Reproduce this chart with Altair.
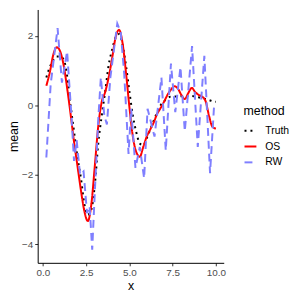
import altair as alt
import pandas as pd

# grid for Truth and OS
grid_x = [0.2, 0.4, 0.6, 0.8, 1.0, 1.2, 1.4, 1.6, 1.8, 2.0,
          2.2, 2.4, 2.6, 2.8, 3.0, 3.2, 3.4, 3.6, 3.8, 4.0,
          4.2, 4.4, 4.6, 4.8, 5.0, 5.2, 5.4, 5.6, 5.8, 6.0,
          6.2, 6.4, 6.6, 6.8, 7.0, 7.2, 7.4, 7.6, 7.8, 8.0,
          8.2, 8.4, 8.6, 8.8, 9.0, 9.2, 9.4, 9.6, 9.8, 10.0]

truth_y = [0.80, 1.10, 1.30, 1.40, 1.40, 1.32, 0.85, 0.00, -0.75, -1.50,
           -2.10, -2.85, -3.15, -3.00, -2.30, -1.10, -0.30, 0.40, 1.15, 1.60,
           1.95, 2.05, 1.75, 1.15, 0.40, -0.30, -0.78, -1.10, -1.15, -0.95,
           -0.70, -0.45, -0.20, 0.00, 0.12, 0.20, 0.25, 0.25, 0.25, 0.26,
           0.27, 0.27, 0.27, 0.25, 0.23, 0.20, 0.18, 0.15, 0.12, 0.10]

os_y = [0.56, 0.95, 1.45, 1.67, 1.55, 1.15, 0.50, -0.25, -1.05, -1.75,
        -2.45, -3.05, -3.33, -2.85, -1.75, -0.60, 0.10, 0.38, 0.80, 1.35,
        1.95, 2.17, 1.80, 0.95, -0.05, -0.90, -1.35, -1.48, -1.20, -0.90,
        -0.70, -0.50, -0.25, -0.08, 0.10, 0.30, 0.45, 0.55, 0.48, 0.30,
        0.18, 0.35, 0.50, 0.38, 0.30, 0.25, 0.12, -0.30, -0.62, -0.67]

rw_x = [0.2, 0.45, 0.85, 1.1, 1.4, 1.65, 1.8, 1.95, 2.15, 2.35,
        2.55, 2.7, 2.85, 3.0, 3.2, 3.35, 3.55, 3.7, 3.9, 4.3,
        4.5, 4.7, 4.95, 5.1, 5.35, 5.6, 5.85, 6.05, 6.45, 6.85,
        7.1, 7.4, 7.65, 7.95, 8.2, 8.62, 8.95, 9.33, 9.66, 9.9]
rw_y = [-1.5, 0.6, 2.22, 0.65, 1.55, -0.3, -1.6, -1.0, -2.0, -1.9,
        -3.1, -2.9, -4.15, -2.5, -0.4, 0.8, -0.3, -0.55, 0.8, 2.35,
        2.1, 0.9, -1.4, -0.1, -1.8, -1.2, -2.1, -0.1, -0.9, 0.8,
        -1.3, 1.2, -0.2, 1.1, -0.75, 1.7, -1.2, 1.42, -1.95, 0.05]

methods = ["Truth", "OS", "RW"]
colors = ["#000000", "#FF0000", "#7F7FFF"]
dashes = [[2, 4], [1, 0], [8, 5]]

rows = []
for i, (x, y) in enumerate(zip(grid_x, truth_y)):
    rows.append({"x": x, "mean": y, "method": "Truth", "ord": i})
for i, (x, y) in enumerate(zip(grid_x, os_y)):
    rows.append({"x": x, "mean": y, "method": "OS", "ord": i})
for i, (x, y) in enumerate(zip(rw_x, rw_y)):
    rows.append({"x": x, "mean": y, "method": "RW", "ord": i})
df = pd.DataFrame(rows)

FONT = "Liberation Sans"

leg = alt.Legend(
    title="method", orient="none", legendX=208, legendY=97,
    titleFontSize=12.5, titleFontWeight="normal", titleColor="black", titleFont=FONT,
    titlePadding=6, labelFontSize=10.5, labelColor="black", labelFont=FONT,
    symbolType="stroke", symbolSize=144, symbolStrokeWidth=2, labelOffset=8,
    rowPadding=3,
)

base = alt.Chart(df).encode(
    x=alt.X("x:Q", title="x",
            scale=alt.Scale(domain=[-0.3, 10.45], nice=False, zero=False),
            axis=alt.Axis(values=[0, 2.5, 5, 7.5, 10], format=".1f", grid=False,
                          domainColor="black", domainWidth=1, tickColor="#333333",
                          tickSize=3, tickWidth=1, labelColor="#4D4D4D", labelFontSize=10,
                          labelFont=FONT, labelPadding=2, titleFont=FONT, titleFontSize=12.5,
                          titleFontWeight="normal", titleColor="black", titlePadding=2)),
    y=alt.Y("mean:Q", title="mean",
            scale=alt.Scale(domain=[-4.53, 2.755], nice=False, zero=False),
            axis=alt.Axis(values=[-4, -2, 0, 2], grid=False,
                          labelExpr="replace(datum.label, '-', '\u2212')",
                          domainColor="black", domainWidth=1, tickColor="#333333",
                          tickSize=3, tickWidth=1, labelColor="#4D4D4D", labelFontSize=10,
                          labelFont=FONT, labelPadding=2, titleFont=FONT, titleFontSize=12.5,
                          titleFontWeight="normal", titleColor="black", titlePadding=1)),
    color=alt.Color("method:N", scale=alt.Scale(domain=methods, range=colors), legend=leg),
    strokeDash=alt.StrokeDash("method:N", scale=alt.Scale(domain=methods, range=dashes), legend=leg),
    order="ord:Q",
)

truth = base.transform_filter(alt.datum.method == "Truth").mark_line(
    strokeWidth=2, interpolate="monotone", clip=True)
osl = base.transform_filter(alt.datum.method == "OS").mark_line(
    strokeWidth=2, interpolate="monotone", clip=True)
rw = base.transform_filter(alt.datum.method == "RW").mark_line(
    strokeWidth=2, clip=True)

chart = alt.layer(truth, osl, rw).properties(
    width=188, height=256,
    autosize=alt.AutoSizeParams(type="none"),
    padding={"left": 30, "top": 0, "right": 70, "bottom": 29},
).configure_view(strokeOpacity=0)

chart.save("out.html", embed_options={"renderer": "svg", "actions": False})
